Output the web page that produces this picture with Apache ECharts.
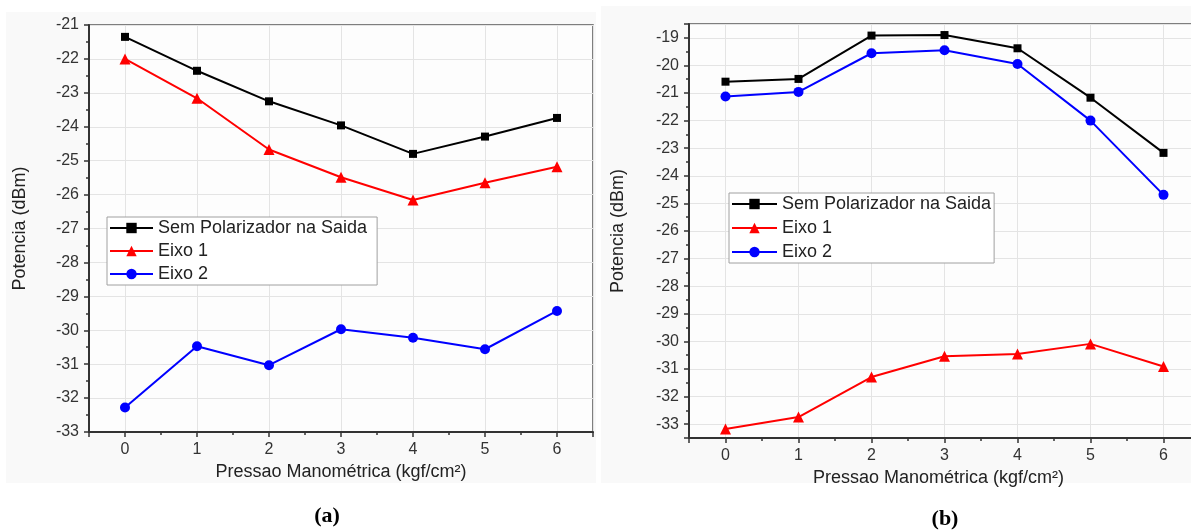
<!DOCTYPE html>
<html>
<head>
<meta charset="utf-8">
<script src="https://cdn.jsdelivr.net/npm/echarts@6/dist/echarts.min.js"></script>
<style>
html,body{margin:0;padding:0;background:#fff;}
#chart{width:1191px;height:532px;}
</style>
</head>
<body>
<div id="chart"></div>
<script>
// ---- data ----
const pressure = [0, 1, 2, 3, 4, 5, 6];
const seriesNames = ['Sem Polarizador na Saida', 'Eixo 1', 'Eixo 2'];
// Chart (a)
const aSem   = [-21.35, -22.35, -23.25, -23.96, -24.80, -24.29, -23.74];
const aEixo1 = [-22.00, -23.16, -24.67, -25.49, -26.16, -25.65, -25.18];
const aEixo2 = [-32.28, -30.47, -31.03, -29.97, -30.22, -30.56, -29.43];
// Chart (b)
const bSem   = [-20.59, -20.49, -18.92, -18.90, -19.38, -21.17, -23.17];
const bEixo1 = [-33.17, -32.74, -31.29, -30.54, -30.46, -30.09, -30.91];
const bEixo2 = [-21.13, -20.96, -19.56, -19.45, -19.95, -22.00, -24.69];
const xTitle = 'Pressao Manométrica (kgf/cm²)';
const yTitle = 'Potencia (dBm)';
const panelLabels = ['(a)', '(b)'];

const pairs = (ys) => pressure.map((x, i) => [x, ys[i]]);
const FONT = 'Liberation Sans, Arial, sans-serif';
const intLabel = (v) => (Math.abs(v - Math.round(v)) < 1e-6 ? String(Math.round(v)) : '');

function xAxisCfg(gridIndex, gap, namePad) {
  return {
    type: 'value', gridIndex, min: -0.5, max: 6.5, splitNumber: 7,
    name: xTitle, nameLocation: 'middle', nameGap: gap,
    nameTextStyle: { fontFamily: FONT, fontSize: 18, color: '#222', padding: namePad },
    axisLine: { show: true, onZero: false, lineStyle: { color: '#333', width: 2 } },
    axisTick: { show: true, length: 5, lineStyle: { color: '#333', width: 1.5 } },
    minorTick: { show: true, splitNumber: 2, length: 3, lineStyle: { color: '#333', width: 1.5 } },
    axisLabel: { fontFamily: FONT, fontSize: 16, color: '#333', margin: 10, formatter: intLabel, showMinLabel: false, showMaxLabel: false },
    splitLine: { show: true, lineStyle: { color: '#e4e4e4', width: 1 } }
  };
}
function yAxisCfg(gridIndex, min, max, gap) {
  return {
    type: 'value', gridIndex, min, max, splitNumber: Math.round(max - min),
    name: yTitle, nameLocation: 'middle', nameGap: gap,
    nameTextStyle: { fontFamily: FONT, fontSize: 18, color: '#222' },
    axisLine: { show: true, onZero: false, lineStyle: { color: '#333', width: 2 } },
    axisTick: { show: true, length: 5, lineStyle: { color: '#333', width: 1.5 } },
    minorTick: { show: true, splitNumber: 2, length: 3, lineStyle: { color: '#333', width: 1.5 } },
    axisLabel: { fontFamily: FONT, fontSize: 16, color: '#333', margin: 10, formatter: intLabel },
    splitLine: { show: true, lineStyle: { color: '#e4e4e4', width: 1 } }
  };
}
const colors = ['#000000', '#ff0000', '#0000ff'];
const symbols = ['rect', 'triangle', 'circle'];
const symSizes = [8, 11, 10];

function lineSeries(idx, data, gi) {
  return {
    type: 'line', name: seriesNames[idx], xAxisIndex: gi, yAxisIndex: gi,
    data: pairs(data), symbol: symbols[idx], symbolSize: symSizes[idx],
    showAllSymbol: true,
    lineStyle: { color: colors[idx], width: 2 },
    itemStyle: { color: colors[idx] },
    emphasis: { disabled: true }, animation: false
  };
}
function legendCfg(gi, left, top, iw, gap, padR) {
  return {
    orient: 'vertical', left, top,
    data: seriesNames.map(n => ({ name: n })),
    itemWidth: iw, itemHeight: 13, itemGap: gap,
    padding: [2, padR, 2, 2],
    backgroundColor: '#ffffff', borderColor: '#a0a0a0', borderWidth: 1, borderRadius: 0,
    textStyle: { fontFamily: FONT, fontSize: 18, color: '#222' },
    selectedMode: false
  };
}

const chart = echarts.init(document.getElementById('chart'), null, { renderer: 'canvas' });
chart.setOption({
  animation: false,
  backgroundColor: '#ffffff',
  graphic: [
    { type: 'rect', z: -10, shape: { x: 6, y: 12, width: 590, height: 471 }, style: { fill: '#f9f9f9' }, silent: true },
    { type: 'rect', z: -10, shape: { x: 601, y: 6, width: 590, height: 477 }, style: { fill: '#f9f9f9' }, silent: true }
  ],
  title: [
    { text: panelLabels[0], left: 322, top: 500, textAlign: 'center',
      textStyle: { fontFamily: 'Liberation Serif, Times New Roman, serif', fontWeight: 'bold', fontSize: 22, color: '#000' } },
    { text: panelLabels[1], left: 940, top: 503, textAlign: 'center',
      textStyle: { fontFamily: 'Liberation Serif, Times New Roman, serif', fontWeight: 'bold', fontSize: 22, color: '#000' } }
  ],
  grid: [
    { left: 89, right: 598, top: 25, bottom: 100, show: true, outerBoundsMode: 'none', containLabel: false, backgroundColor: '#fdfdfd', borderColor: '#555', borderWidth: 1.5 },
    { left: 689, right: -9, top: 24, bottom: 94, show: true, outerBoundsMode: 'none', containLabel: false, backgroundColor: '#fdfdfd', borderColor: '#555', borderWidth: 1.5 }
  ],
  xAxis: [xAxisCfg(0, 30, [0, 0, 0, 0]), xAxisCfg(1, 29, [0, 12, 0, 0])],
  yAxis: [yAxisCfg(0, -33, -21, 60), yAxisCfg(1, -33.5, -18.5, 62)],
  legend: [
    legendCfg(0, 107, 217, 43, 5, 10),
    legendCfg(1, 729, 193, 45, 6, 3)
  ],
  series: [
    lineSeries(0, aSem, 0), lineSeries(1, aEixo1, 0), lineSeries(2, aEixo2, 0),
    lineSeries(0, bSem, 1), lineSeries(1, bEixo1, 1), lineSeries(2, bEixo2, 1)
  ]
});
</script>
</body>
</html>
